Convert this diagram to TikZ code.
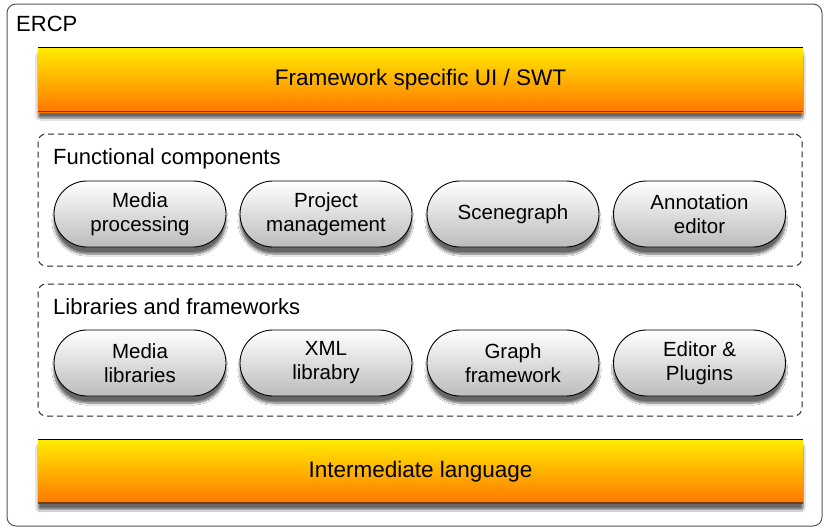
\documentclass[tikz,border=0pt]{standalone}
\usepackage{fontspec}
\setmainfont{Liberation Sans}
\usetikzlibrary{shadows.blur,shapes.misc}
\definecolor{barTop}{RGB}{255,236,0}
\definecolor{barBot}{RGB}{255,118,0}
\definecolor{barEdge}{RGB}{120,60,10}
\definecolor{pillBot}{RGB}{188,188,188}
\definecolor{outerEdge}{RGB}{85,85,85}
\tikzset{
  bar/.style={rectangle, minimum width=765pt, minimum height=64pt, inner sep=0pt,
    top color=barTop, bottom color=barBot, draw=none,
    blur shadow={shadow xshift=0pt, shadow yshift=-6pt, shadow blur steps=8, shadow blur extra rounding=2pt, shadow opacity=60},
    font=\fontsize{22.5}{26}\selectfont},
  pill/.style={rounded rectangle, minimum width=172pt, minimum height=66pt, inner sep=0pt,
    top color=white, bottom color=pillBot, draw=black, line width=0.9pt,
    blur shadow={shadow xshift=0pt, shadow yshift=-7pt, shadow blur steps=8, shadow opacity=60},
    align=center, font=\fontsize{20.5}{24}\selectfont},
  group/.style={draw=black!85, dash pattern=on 6pt off 4pt, line width=1pt, rounded corners=8pt},
  grouplabel/.style={anchor=base west, inner sep=0pt, font=\fontsize{22}{26}\selectfont},
}
\begin{document}
\begin{tikzpicture}[x=1pt,y=-1pt]
\useasboundingbox (0,0) rectangle (826,530);
\draw[outerEdge, line width=1pt, rounded corners=9pt, fill=white] (7,4) rectangle (822,526);
\node[grouplabel] (ercp) at (16,31) {ERCP};

\node[bar] (ui) at (420.5,80) {Framework specific UI / SWT};
\draw[black, line width=0.8pt] (ui.north west) -- (ui.north east);
\draw[barEdge, line width=1.5pt] ([yshift=0.75pt]ui.south west) -- ([yshift=0.75pt]ui.south east);

\node[group, minimum width=764pt, minimum height=132pt, inner sep=0pt] (fc) at (420,200) {};
\node[grouplabel] (fcl) at (53,164) {Functional components};
\node[pill] (p1) at (140,214) {Media\\processing};
\node[pill] (p2) at (326,214) {Project\\management};
\node[pill] (p3) at (513,214) {Scenegraph};
\node[pill] (p4) at (699.5,214) {Annotation\\editor};

\node[group, minimum width=764pt, minimum height=132pt, inner sep=0pt] (lf) at (420,350) {};
\node[grouplabel] (lfl) at (53,314) {Libraries and frameworks};
\node[pill] (q1) at (140,363) {Media\\libraries};
\node[pill] (q2) at (326,363) {XML\\librabry};
\node[pill] (q3) at (513,363) {Graph\\framework};
\node[pill] (q4) at (699.5,363) {Editor \&\\Plugins};

\node[bar] (il) at (420.5,471.5) {Intermediate language};
\draw[black, line width=0.8pt] (il.north west) -- (il.north east);
\draw[barEdge, line width=1.5pt] ([yshift=0.75pt]il.south west) -- ([yshift=0.75pt]il.south east);
\end{tikzpicture}
\end{document}
